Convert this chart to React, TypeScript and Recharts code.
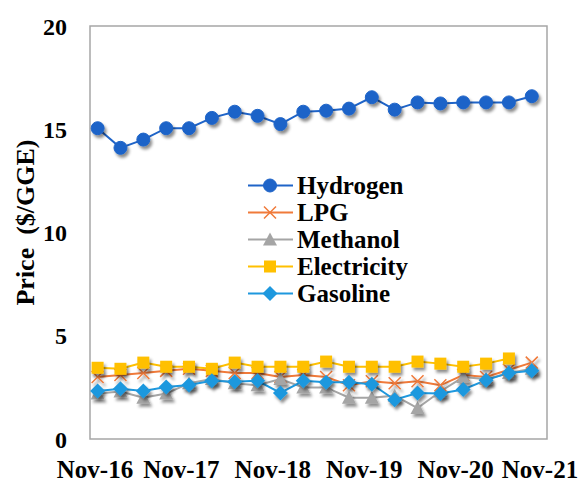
import React from 'react';
import { LineChart, Line, XAxis, YAxis, Legend, ReferenceArea } from 'recharts';

// quarterly observations, x = months after Nov-16
const months = [1, 4, 7, 10, 13, 16, 19, 22, 25, 28, 31, 34, 37, 40, 43, 46, 49, 52, 55, 58];
const xTickMonths = [0, 12, 24, 36, 48, 60];
const xTickLabels = ['Nov-16', 'Nov-17', 'Nov-18', 'Nov-19', 'Nov-20', 'Nov-21'];
const yTicks = [0, 5, 10, 15, 20];

const hydrogen = [15.05, 14.1, 14.5, 15.05, 15.05, 15.55, 15.85, 15.65, 15.25, 15.85, 15.9, 16.0, 16.55, 15.95, 16.3, 16.25, 16.3, 16.3, 16.3, 16.6];
const lpg = [3.0, 3.1, 3.2, 3.3, 3.4, 3.3, 3.2, 3.2, 3.0, 3.1, 3.0, 2.6, 2.8, 2.7, 2.8, 2.6, 3.1, 3.0, 3.35, 3.7];
const methanol = [2.2, 2.3, 2.0, 2.2, 2.7, 2.9, 2.7, 2.6, 2.9, 2.5, 2.5, 2.0, 2.0, 2.1, 1.5, 2.3, 3.0, 2.9, 3.2, 3.4];
const electricity = [3.45, 3.4, 3.7, 3.5, 3.5, 3.4, 3.7, 3.5, 3.5, 3.5, 3.75, 3.5, 3.5, 3.5, 3.75, 3.65, 3.5, 3.65, 3.9, null];
const gasoline = [2.33, 2.43, 2.33, 2.52, 2.62, 2.82, 2.77, 2.82, 2.23, 2.82, 2.75, 2.75, 2.65, 1.9, 2.23, 2.2, 2.4, 2.85, 3.2, 3.3];

const data = months.map((m, i) => ({
  m,
  Hydrogen: hydrogen[i],
  LPG: lpg[i],
  Methanol: methanol[i],
  Electricity: electricity[i],
  Gasoline: gasoline[i],
}));

type Shape = 'circle' | 'cross' | 'triangle' | 'square' | 'diamond';

const SERIES: { key: string; color: string; shape: Shape }[] = [
  { key: 'Hydrogen', color: '#1F64C8', shape: 'circle' },
  { key: 'LPG', color: '#F07A3A', shape: 'cross' },
  { key: 'Methanol', color: '#A5A5A5', shape: 'triangle' },
  { key: 'Electricity', color: '#FFC000', shape: 'square' },
  { key: 'Gasoline', color: '#1E98DE', shape: 'diamond' },
];

const FONT = '"Liberation Serif", "Times New Roman", serif';

const Marker = ({ cx, cy, shape, color, shadow = true }: { cx: number; cy: number; shape: Shape; color: string; shadow?: boolean }) => {
  const filter = shadow ? 'url(#mk-shadow)' : undefined;
  const t = `translate(${cx},${cy})`;
  switch (shape) {
    case 'circle':
      return <circle cx={cx} cy={cy} r={6.5} fill={color} stroke={color} filter={filter} />;
    case 'cross':
      return <path transform={t} d="M-6,-6L6,6M-6,6L6,-6" stroke={color} strokeWidth={1.5} fill="none" filter={filter} />;
    case 'triangle':
      return <polygon transform={t} points="0,-7 7,6 -7,6" fill={color} filter={filter} />;
    case 'square':
      return <rect x={cx - 6} y={cy - 6} width={12} height={12} fill={color} filter={filter} />;
    default:
      return <polygon transform={t} points="0,-7.5 7.5,0 0,7.5 -7.5,0" fill={color} filter={filter} />;
  }
};

const makeDot = (shape: Shape, color: string) => (props: any) => {
  const { cx, cy, index } = props;
  if (cx == null || cy == null) return <g key={`e-${index}`} />;
  return (
    <g key={`d-${index}`}>
      {index === 0 && (
        <defs>
          <filter id="mk-shadow" x="-80%" y="-80%" width="260%" height="260%">
            <feGaussianBlur in="SourceAlpha" stdDeviation="1.6" />
            <feOffset dx="2" dy="3" result="blur" />
            <feFlood floodColor="#000000" floodOpacity="0.45" />
            <feComposite in2="blur" operator="in" />
            <feMerge>
              <feMergeNode />
              <feMergeNode in="SourceGraphic" />
            </feMerge>
          </filter>
        </defs>
      )}
      <Marker cx={cx} cy={cy} shape={shape} color={color} />
    </g>
  );
};

const XTick = (props: any) => {
  const { x, y, payload } = props;
  const i = xTickMonths.indexOf(payload.value);
  const shift = i === 0 ? 5 : i === xTickLabels.length - 1 ? -7 : 0;
  return (
    <text x={x + shift} y={y} dy="0.71em" textAnchor="middle" fontFamily={FONT} fontWeight="bold" fontSize={25} fill="#000">
      {xTickLabels[i]}
    </text>
  );
};

const renderLegend = () => (
  <svg width={210} height={137}>
    {SERIES.map((s, i) => {
      const cy = 13.5 + i * 27;
      return (
        <g key={s.key}>
          <line x1={0} x2={45} y1={cy} y2={cy} stroke={s.color} strokeWidth={2} />
          <Marker cx={22} cy={cy} shape={s.shape} color={s.color} shadow={false} />
          <text x={49} y={cy} dy="0.35em" fontFamily={FONT} fontWeight="bold" fontSize={25} fill="#000">
            {s.key}
          </text>
        </g>
      );
    })}
  </svg>
);

const YLabel = (props: any) => {
  const { viewBox } = props;
  const x = 25;
  const y = viewBox.y + viewBox.height / 2 - 10;
  return (
    <text x={x} y={y} transform={`rotate(-90 ${x} ${y})`} textAnchor="middle" dominantBaseline="central" fontFamily={FONT} fontWeight="bold" fontSize={26} fill="#000">
      Price&#160;&#160;($/GGE)
    </text>
  );
};

export default function App() {
  return (
    <div style={{ marginLeft: -8, marginTop: -8, width: 587, height: 482, background: '#fff' }}>
      <LineChart width={587} height={482} data={data} margin={{ top: 26, right: 40, bottom: 0, left: 0 }}>
        <ReferenceArea x1={0} x2={60} y1={0} y2={20} fill="none" stroke="#A6A6A6" strokeWidth={1.5} />
        <XAxis
          dataKey="m"
          type="number"
          domain={[0, 60]}
          ticks={xTickMonths}
          interval={0}
          axisLine={false}
          tickLine={false}
          tickSize={0}
          tickMargin={21}
          height={43}
          tick={<XTick />}
        />
        <YAxis
          type="number"
          domain={[0, 20]}
          ticks={yTicks}
          interval={0}
          axisLine={false}
          tickLine={false}
          tickSize={0}
          tickMargin={23}
          width={90}
          tick={{ fontFamily: FONT, fontWeight: 'bold', fontSize: 24, fill: '#000' }}
          label={<YLabel />}
        />
        {SERIES.map((s) => (
          <Line
            key={s.key}
            dataKey={s.key}
            name={s.key}
            stroke={s.color}
            strokeWidth={2}
            type="linear"
            dot={makeDot(s.shape, s.color)}
            activeDot={false}
            isAnimationActive={false}
            connectNulls={false}
          />
        ))}
        <Legend
          layout="vertical"
          align="center"
          verticalAlign="middle"
          wrapperStyle={{ left: 248, top: 172, width: 210, height: 137 }}
          content={renderLegend}
        />
      </LineChart>
    </div>
  );
}
